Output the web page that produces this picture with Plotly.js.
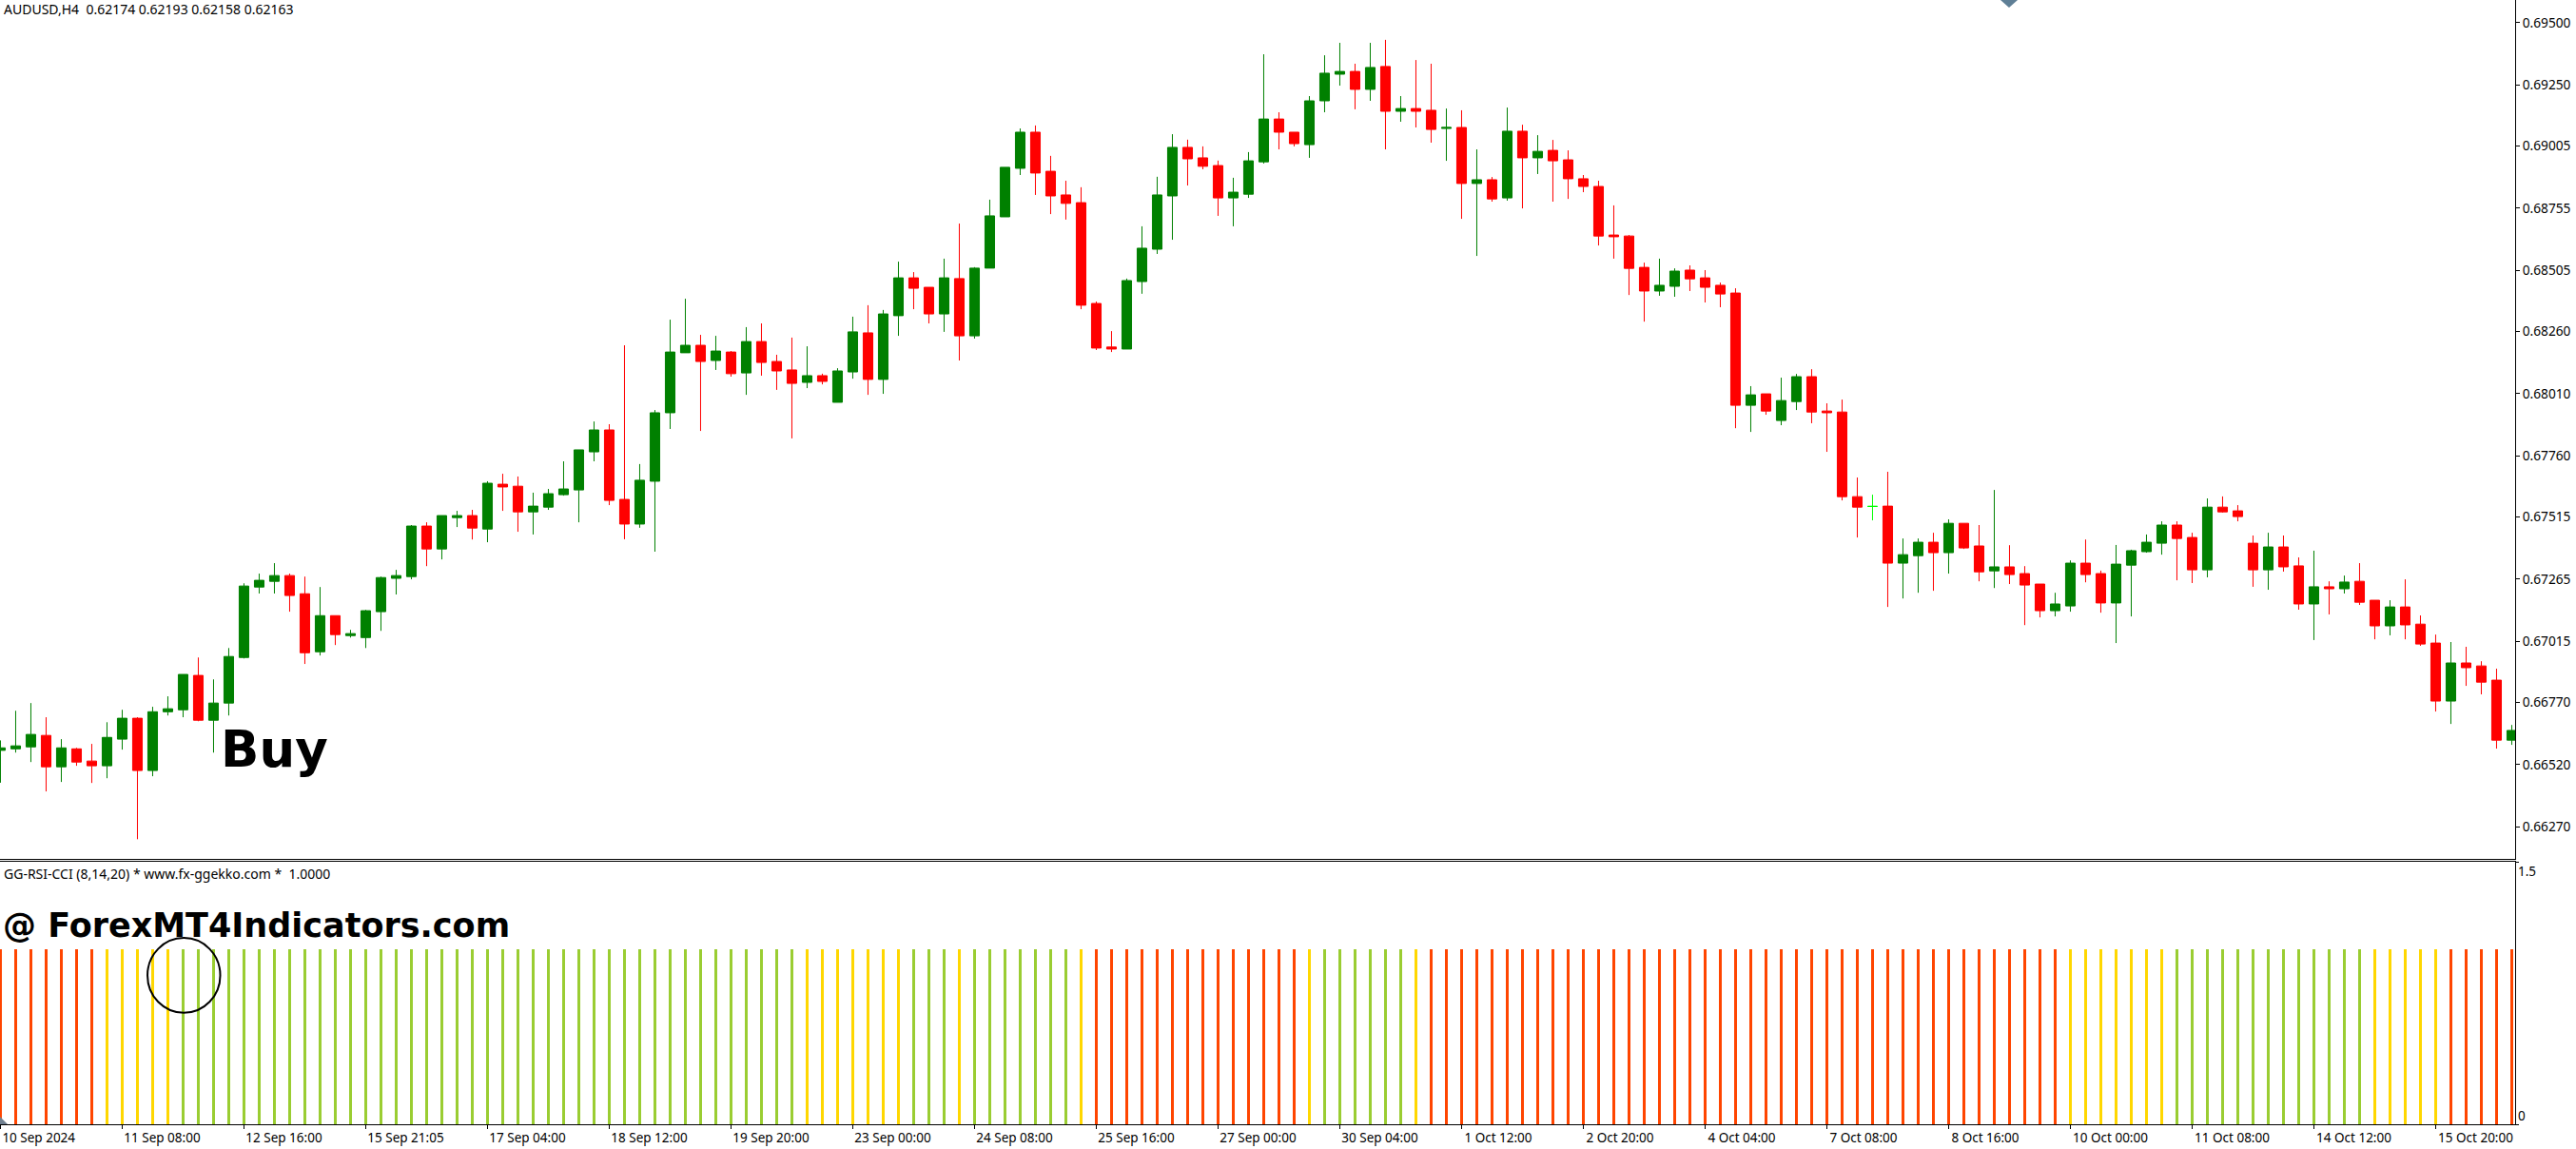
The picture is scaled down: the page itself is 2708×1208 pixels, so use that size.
<!DOCTYPE html>
<html>
<head>
<meta charset="utf-8">
<script src="https://cdn.plot.ly/plotly-3.0.1.min.js"></script>
<style>html,body{margin:0;padding:0;background:#fff;overflow:hidden}#chart{width:2708px;height:1208px}</style>
</head>
<body>
<div id="chart"></div>
<script>
// AUDUSD H4 prices in points (1 point = 0.00001)
const candleOpen = [
66577,66583,66591,66637,66511,66583,66534,66515,66622,66706,
66496,66732,66740,66878,66698,66767,66950,67233,67256,67279,
67206,66973,67118,67038,67030,67134,67268,67275,67478,67386,
67512,67520,67466,67646,67638,67535,67554,67604,67623,67776,
67864,67585,67486,67658,67933,68174,68204,68143,68177,68093,
68219,68139,68105,68055,68082,67975,68097,68254,68067,68323,
68475,68437,68330,68472,68242,68514,68720,68915,69060,68903,
68808,68777,68372,68197,68189,68460,68590,68804,68999,68957,
68926,68796,68811,68941,69113,69060,69010,69186,69293,69304,
69232,69324,69144,69155,69148,69075,69079,68854,68869,68796,
69064,68957,68987,68949,68873,68842,68647,68643,68517,68422,
68441,68506,68475,68445,68414,67963,68009,67902,67978,68078,
67940,67936,67596,67557,67558,67329,67359,67413,67371,67489,
67398,67298,67314,67287,67245,67138,67157,67329,67287,67169,
67321,67375,67409,67482,67432,67302,67554,67539,67409,67302,
67394,67318,67165,67234,67226,67256,67180,67077,67153,67084,
67008,66775,66928,66916,66859,66618];
const candleHigh = [
66617,66736,66767,66710,66622,66587,66603,66690,66740,66710,
66752,66794,66882,66950,66862,66988,67248,67287,67329,67287,
67275,67233,67118,67061,67141,67275,67302,67482,67493,67520,
67539,67543,67658,67688,67677,67612,67627,67738,67784,67898,
67887,68204,67727,67944,68307,68391,68246,68242,68181,68277,
68292,68166,68235,68200,68090,68112,68319,68365,68346,68540,
68498,68437,68552,68693,68518,68789,68919,69075,69087,68965,
68865,68839,68380,68261,68472,68682,68881,69052,69030,69003,
68946,68877,68980,69373,69140,69060,69205,69369,69419,69335,
69419,69431,69205,69350,69335,69155,69148,68991,68880,69159,
69090,69048,69029,68987,68888,68865,68766,68647,68536,68552,
68513,68525,68506,68456,68433,68040,68009,68074,68089,68108,
67971,67986,67673,67604,67696,67428,67428,67451,67505,67489,
67482,67623,67401,67317,67245,67210,67340,67424,67299,67402,
67383,67444,67497,67497,67451,67589,67597,67562,67440,67451,
67440,67352,67379,67256,67279,67329,67180,67180,67264,67119,
67042,67012,66993,66935,66905,66679];
const candleLow = [
66447,66568,66530,66412,66450,66515,66446,66465,66580,66220,
66473,66717,66710,66694,66568,66717,66946,67207,67207,67134,
66924,66958,67000,67030,66988,67057,67203,67264,67317,67344,
67474,67424,67413,67539,67455,67444,67543,67600,67493,67738,
67562,67425,67471,67375,67868,68174,67860,68105,68078,68005,
68082,68025,67830,68032,68047,67975,68070,68005,68009,68242,
68349,68292,68258,68143,68231,68514,68720,68888,68808,68731,
68709,68349,68185,68177,68189,68411,68571,68628,68846,68911,
68724,68682,68796,68934,68991,69003,68957,69140,69247,69152,
69186,68991,69102,69079,69018,68945,68712,68563,68781,68785,
68754,68892,68781,68792,68819,68605,68552,68406,68299,68403,
68399,68422,68376,68357,67871,67856,67925,67883,67944,67891,
67776,67581,67432,67501,67153,67187,67210,67218,67287,67386,
67256,67229,67245,67080,67111,67115,67134,67252,67130,67008,
67115,67371,67363,67260,67249,67272,67532,67497,67234,67222,
67295,67142,67020,67123,67207,67161,67023,67039,67023,66997,
66733,66683,66836,66802,66584,66599];
const candleClose = [
66587,66595,66641,66511,66587,66530,66515,66629,66706,66496,
66732,66744,66882,66698,66767,66954,67237,67260,67279,67199,
66969,67118,67042,67046,67138,67271,67279,67478,67386,67520,
67520,67470,67650,67635,67535,67558,67608,67627,67784,67864,
67581,67486,67662,67933,68177,68204,68139,68181,68090,68219,
68135,68101,68051,68082,68059,68101,68258,68067,68330,68475,
68433,68330,68475,68242,68514,68724,68919,69060,68896,68804,
68774,68365,68193,68189,68464,68594,68808,68999,68953,68923,
68796,68819,68945,69113,69060,69014,69186,69297,69304,69232,
69320,69144,69155,69144,69071,69079,68854,68869,68792,69064,
68957,68983,68945,68873,68842,68643,68640,68513,68422,68445,
68502,68471,68437,68410,67963,68005,67940,67982,68078,67936,
67933,67596,67554,67557,67329,67363,67413,67371,67489,67390,
67294,67314,67283,67241,67138,67165,67329,67283,67169,67325,
67379,67413,67482,67428,67302,67554,67535,67516,67302,67394,
67314,67165,67234,67226,67253,67172,67077,67153,67081,67004,
66775,66928,66909,66851,66618,66657];
const limeDojiBars = [123];

// GG-RSI-CCI histogram: O = orange-red, Y = gold, G = yellow-green
const indicatorStates = [
"OOOOOOOYYY","YYGGGGGGGG","GGGGGGGGGG","GGGGGGGGGG","GGGGGGGGGG","GGGYYYYYYY",
"GGGYGGGGGG","GYOOOOOOOO","OOOOOOYGGG","GGGYOOOOOO","OOOOOOOOOO","OOOOOOOOOO",
"OOOOOOOOOO","OOOOOOYYYY","YYYGGGGGGG","GGGGGGYYYY","YOOOOO"].join("").split("");
const indicatorValues = [
1,1,1,1,1,1,1,1,1,1, 1,1,1,1,1,1,1,1,1,1, 1,1,1,1,1,1,1,1,1,1, 1,1,1,1,1,1,1,1,1,1,
1,1,1,1,1,1,1,1,1,1, 1,1,1,1,1,1,1,1,1,1, 1,1,1,1,1,1,1,1,1,1, 1,1,1,1,1,1,1,1,1,1,
1,1,1,1,1,1,1,1,1,1, 1,1,1,1,1,1,1,1,1,1, 1,1,1,1,1,1,1,1,1,1, 1,1,1,1,1,1,1,1,1,1,
1,1,1,1,1,1,1,1,1,1, 1,1,1,1,1,1,1,1,1,1, 1,1,1,1,1,1,1,1,1,1, 1,1,1,1,1,1,1,1,1,1,
1,1,1,1,1,1];
const stateColors = {O:"#FF4500", Y:"#FFD700", G:"#9ACD32"};

const priceTicks = [0.6627,0.6652,0.6677,0.67015,0.67265,0.67515,0.6776,0.6801,0.6826,0.68505,0.68755,0.69005,0.6925,0.695];
const timeTickBars = [0,8,16,24,32,40,48,56,64,72,80,88,96,104,112,120,128,136,144,152,160];
const timeTickLabels = ["10 Sep 2024","11 Sep 08:00","12 Sep 16:00","15 Sep 21:05","17 Sep 04:00","18 Sep 12:00","19 Sep 20:00","23 Sep 00:00","24 Sep 08:00","25 Sep 16:00","27 Sep 00:00","30 Sep 04:00","1 Oct 12:00","2 Oct 20:00","4 Oct 04:00","7 Oct 08:00","8 Oct 16:00","10 Oct 00:00","11 Oct 08:00","14 Oct 12:00","15 Oct 20:00"];
const indicatorTicks = [0,1.5];
const indicatorTickLabels = ["1.5","0"];

const priceTitle = "AUDUSD,H4 \u00A00.62174 0.62193 0.62158 0.62163";
const indicatorTitle = "GG-RSI-CCI (8,14,20) * www.fx-ggekko.com * \u00A01.0000";
const signalLabel = "Buy";
const watermark = "@ ForexMT4Indicators.com";

// ---- frame geometry
const W = 2708, H = 1208, plotW = 2644, plotH = 1182;
const px = v => v / plotW, py = v => (plotH - v) / plotH;
const barPx = 16, x0 = -0.03;
const xRange = [x0, x0 + plotW / barPx];
const bars = candleOpen.map((_, i) => i);
const toPrice = v => v / 1e5;
const pick = (arr, idx) => idx.map(i => toPrice(arr[i]));
const mainBars = bars.filter(i => !limeDojiBars.includes(i));
// labels are centred on their tick by the library; pad the shorter ones so all start at the tick
const padLabel = s => s + "\u00A0".repeat(s.length === 11 ? (s.includes("Sep") ? 1 : 2) : 0);

const FONT = "'Noto Sans', 'Open Sans', sans-serif";
const HEAVY = "'DejaVu Sans', 'Liberation Sans', sans-serif";
const candleCommon = {type:"candlestick", xaxis:"x", yaxis:"y", hoverinfo:"skip", showlegend:false, whiskerwidth:0};

const traces = [
  Object.assign({}, candleCommon, {
    name:"AUDUSD", x:mainBars,
    open:pick(candleOpen,mainBars), high:pick(candleHigh,mainBars), low:pick(candleLow,mainBars), close:pick(candleClose,mainBars),
    increasing:{line:{color:"#008000",width:1},fillcolor:"#008000"},
    decreasing:{line:{color:"#FF0000",width:1},fillcolor:"#FF0000"}
  }),
  Object.assign({}, candleCommon, {
    name:"Doji", x:limeDojiBars,
    open:pick(candleOpen,limeDojiBars), high:pick(candleHigh,limeDojiBars), low:pick(candleLow,limeDojiBars), close:pick(candleClose,limeDojiBars),
    increasing:{line:{color:"#00FF00",width:1},fillcolor:"#00FF00"},
    decreasing:{line:{color:"#00FF00",width:1},fillcolor:"#00FF00"}
  }),
  {type:"bar", name:"GG-RSI-CCI", xaxis:"x2", yaxis:"y2", x:bars, y:indicatorValues,
   width:3/barPx, marker:{color:indicatorStates.map(s => stateColors[s]), line:{width:0}},
   hoverinfo:"skip", showlegend:false}
];

const ann = (text, x, y, size, bold, family) => ({
  text: bold ? "<b>" + text + "</b>" : text, xref:"paper", yref:"paper", x:px(x), y:py(y),
  xanchor:"left", yanchor:"middle", showarrow:false, align:"left",
  font:{family:family || FONT, size:size, color:"#000"}, borderpad:0, borderwidth:0
});

const layout = {
  width:W, height:H, paper_bgcolor:"#fff", plot_bgcolor:"#fff",
  margin:{l:0, r:W - plotW, t:0, b:H - plotH, pad:0},
  showlegend:false, boxgap:0.37, boxgroupgap:0,
  xaxis:{domain:[0,1], anchor:"y", range:xRange, rangeslider:{visible:false}, showgrid:false, zeroline:false,
    showticklabels:false, ticks:"", showline:true, linecolor:"#000", linewidth:1, tickvals:timeTickBars},
  xaxis2:{domain:[0,1], anchor:"y2", range:xRange, showgrid:false, zeroline:false, showline:true, mirror:true, linecolor:"#000", linewidth:1,
    ticks:"outside", ticklen:4, tickwidth:1, tickcolor:"#000", tickmode:"array", tickvals:timeTickBars, ticktext:timeTickLabels.map(padLabel),
    tickangle:0, ticklabelshift:42, ticklabelstandoff:-2, tickfont:{family:FONT, size:13.5, color:"#000"}, automargin:false},
  yaxis:{domain:[py(903),1], anchor:"x", side:"right", range:[0.66141,0.69591], showgrid:false, zeroline:false,
    showline:true, linecolor:"#000", linewidth:1, ticks:"outside", ticklen:4, tickwidth:1, tickcolor:"#000",
    tickmode:"array", tickvals:priceTicks, tickformat:".5f", tickfont:{family:FONT, size:13.7, color:"#000"}, automargin:false},
  yaxis2:{domain:[0,py(906)], anchor:"x2", side:"right", range:[0,1.5], showgrid:false, zeroline:false,
    showline:true, linecolor:"#000", linewidth:1, ticks:"outside", ticklen:3, tickwidth:1, tickcolor:"#000",
    tickmode:"array", tickvals:indicatorTicks, showticklabels:false, automargin:false},
  annotations:[
    ann(priceTitle, 4, 10, 14),
    ann(indicatorTitle, 4, 918, 14),
    ann(indicatorTickLabels[0], 2647, 916, 13.5),
    ann(indicatorTickLabels[1], 2647, 1173, 13.5),
    ann(signalLabel, 232, 787, 53, true, HEAVY),
    ann(watermark, 3, 973, 35, true, HEAVY)
  ],
  shapes:[
    {type:"circle", xref:"x2", yref:"y2", x0:9.66, x1:14.44, y0:0.637, y1:1.065, line:{color:"#000", width:2}, layer:"above"},
    {type:"path", xref:"paper", yref:"paper", path:`M ${px(2103)} ${py(0)} L ${px(2121)} ${py(0)} L ${px(2112)} ${py(8)} Z`, fillcolor:"#5F7F96", line:{width:0}},
    {type:"path", xref:"paper", yref:"paper", path:`M ${px(0)} ${py(1174)} L ${px(8)} ${py(1182)} L ${px(0)} ${py(1182)} Z`, fillcolor:"#708090", line:{width:0}}
  ]
};

Plotly.newPlot("chart", traces, layout, {displayModeBar:false, staticPlot:true, responsive:false});
</script>
</body>
</html>
